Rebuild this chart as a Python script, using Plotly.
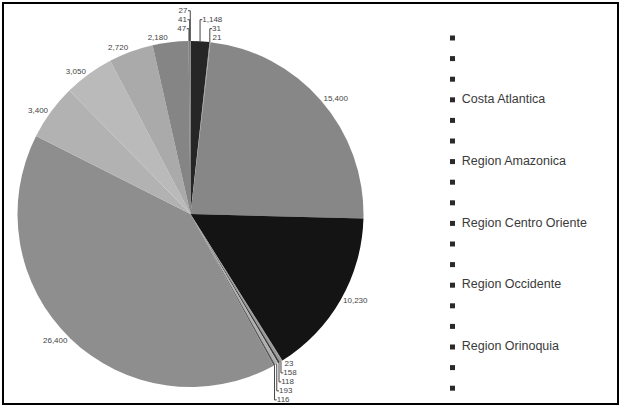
import plotly.graph_objects as go

# Slice values, clockwise from 12 o'clock
values = [1148, 31, 21, 15400, 10230, 23, 158, 118, 193, 116,
          26400, 3400, 3050, 2720, 2180, 47, 41, 27]
colors = ["#262626", "#6e6e6e", "#a0a0a0", "#878787", "#141414",
          "#505050", "#9a9a9a", "#3c3c3c", "#b0b0b0", "#5a5a5a",
          "#8e8e8e", "#b2b2b2", "#bababa", "#aaaaaa", "#858585",
          "#777777", "#4a4a4a", "#9c9c9c"]

# Legend names (only every third entry carries a name)
legend_names = ["", "", "", "Costa Atlantica", "", "", "Region Amazonica",
                "", "", "Region Centro Oriente", "", "", "Region Occidente",
                "", "", "Region Orinoquia", "", ""]

W, H = 621, 408
cx, cy, r = 190.5, 214, 173

fig = go.Figure()

fig.add_trace(go.Pie(
    values=values,
    sort=False,
    direction="clockwise",
    rotation=0,
    marker=dict(colors=colors, line=dict(width=0)),
    texttemplate="%{value:,}",
    textposition="outside",
    outsidetextfont=dict(size=8, color="#444444", family="Liberation Sans"),
    showlegend=False,
    automargin=False,
    domain=dict(x=[(cx - r) / W, (cx + r) / W],
                y=[(H - cy - r) / H, (H - cy + r) / H]),
    hoverinfo="value+percent",
))

# Hand-built legend column: swatches, then names a little to the right
idx = list(range(len(legend_names)))
fig.add_trace(go.Scatter(
    x=[0] * len(idx), y=idx,
    mode="markers",
    marker=dict(symbol="square", size=5, color="#2a2a2a"),
    showlegend=False, hoverinfo="skip", cliponaxis=False,
))
fig.add_trace(go.Scatter(
    x=[0.055] * len(idx), y=idx,
    mode="text",
    text=legend_names,
    textposition="middle right",
    textfont=dict(size=12.5, color="#3a3a3a", family="Liberation Sans"),
    showlegend=False, hoverinfo="skip", cliponaxis=False,
))

step = 20.6
top = 38
fig.update_layout(
    width=W, height=H,
    margin=dict(l=0, r=0, t=0, b=0, autoexpand=False),
    paper_bgcolor="white", plot_bgcolor="rgba(0,0,0,0)",
    xaxis=dict(domain=[452.5 / W, 1.0], range=[0, 1], visible=False,
               fixedrange=True, automargin=False),
    yaxis=dict(domain=[0, 1], range=[(H - top) / step, -top / step],
               visible=False, fixedrange=True, automargin=False),
    shapes=[dict(type="rect", xref="paper", yref="paper",
                 x0=3 / W, x1=618 / W, y0=(H - 404) / H, y1=(H - 3) / H,
                 line=dict(color="black", width=2))],
)

fig.write_html("out.html")
